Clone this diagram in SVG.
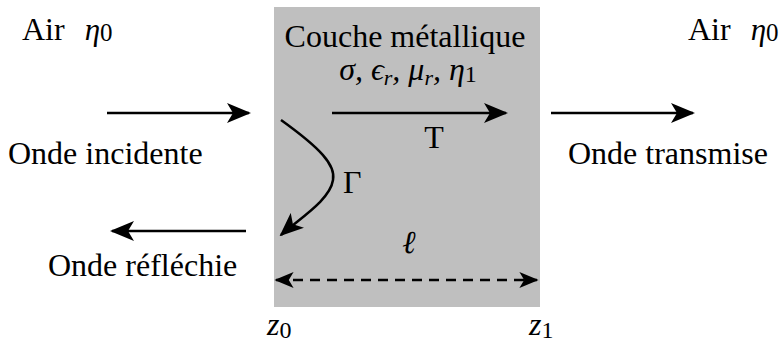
<svg xmlns="http://www.w3.org/2000/svg" width="779" height="344" viewBox="0 0 779 344">
<style>
text{font-family:"Liberation Serif","Times New Roman",serif;font-size:32px;fill:#000}
.m{font-style:italic}
.ln{stroke:#000;stroke-width:2.5;fill:none}
</style>
<defs>
<marker id="ah" viewBox="0 0 24 20" refX="22" refY="10" markerWidth="24" markerHeight="20" markerUnits="userSpaceOnUse" orient="auto">
<path d="M0,0 L24,10 L0,20 L6,10 Z" fill="#000"/>
</marker>
<marker id="ah2" viewBox="0 0 24 20" refX="22" refY="10" markerWidth="20" markerHeight="16" markerUnits="userSpaceOnUse" orient="auto-start-reverse">
<path d="M0,0 L24,10 L0,20 L6,10 Z" fill="#000"/>
</marker>
</defs>
<g id="layer"><rect x="274" y="7" width="266" height="300" fill="#bfbfbf"/></g>
<g id="labels">
<text x="22" y="40">Air <tspan class="m" dx="12" font-size="31">η</tspan><tspan font-size="25" dy="1">0</tspan></text>
<text x="688" y="40">Air <tspan class="m" dx="12" font-size="31">η</tspan><tspan font-size="25" dy="1">0</tspan></text>
<text x="405" y="47" text-anchor="middle">Couche métallique</text>
<text x="408" y="80" text-anchor="middle" class="m" font-size="30">σ, ϵ<tspan font-size="22" dy="5">r</tspan><tspan dy="-5">, μ</tspan><tspan font-size="22" dy="5">r</tspan><tspan dy="-5">, η</tspan><tspan font-size="24" dy="2" font-style="normal">1</tspan></text>
<text x="434" y="148" text-anchor="middle">T</text>
<text x="343" y="193">Γ</text>
<text x="409" y="253" class="m" text-anchor="middle">ℓ</text>
<text x="8" y="164">Onde incidente</text>
<text x="568" y="164">Onde transmise</text>
<text x="48" y="276">Onde réfléchie</text>
<text x="267" y="335" class="m" font-size="32">z<tspan font-size="24" dy="3" font-style="normal">0</tspan></text>
<text x="529" y="335" class="m" font-size="32">z<tspan font-size="24" dy="3" font-style="normal">1</tspan></text>
</g>
<g id="connectors">
<line class="ln" x1="107" y1="113" x2="249" y2="113" marker-end="url(#ah)"/>
<line class="ln" x1="332" y1="113" x2="506" y2="113" marker-end="url(#ah)"/>
<line class="ln" x1="551" y1="113" x2="693" y2="113" marker-end="url(#ah)"/>
<line class="ln" x1="246" y1="231" x2="112" y2="231" marker-end="url(#ah)"/>
<path class="ln" d="M281,120 C320,148 336,165 333,180 C330,200 300,218 281,235" marker-end="url(#ah)"/>
<line class="ln" x1="276" y1="280" x2="537" y2="280" stroke-dasharray="10,7" marker-start="url(#ah2)" marker-end="url(#ah2)"/>
</g>
</svg>
